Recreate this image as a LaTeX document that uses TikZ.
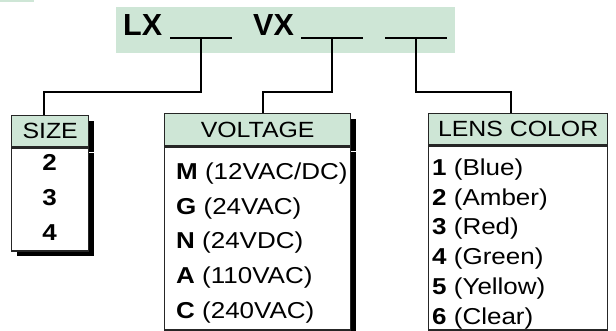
\documentclass[tikz,border=0pt]{standalone}
\usepackage{fontspec}
\setmainfont{Liberation Sans}
\newfontfamily\widefont{Liberation Sans}[FakeStretch=1.13]
\usetikzlibrary{positioning, shadows}
\definecolor{palegreen}{RGB}{206,230,214}

\begin{document}
\begin{tikzpicture}[x=1pt, y=-1pt,
    head/.style={rectangle, draw=black!85, line width=1.3pt, fill=palegreen, inner sep=0pt, anchor=north west, font=\widefont\fontsize{22}{22}\selectfont},
    body/.style={rectangle, draw=black!85, line width=1.3pt, fill=white, inner sep=0pt, below=0pt of #1},
    shade/.style={drop shadow={shadow xshift=5pt, shadow yshift=-5pt, fill=black, opacity=1}},
    item/.style={anchor=base west, inner sep=0pt, font=\widefont\fontsize{23}{23}\selectfont},
    code/.style={anchor=base west, inner sep=0pt, font=\bfseries\fontsize{30.5}{30.5}\selectfont},
    slot/.style={rectangle, fill=black, inner sep=0pt, minimum width=62pt, minimum height=2pt},
    link/.style={line width=1.5pt, black}
]
\useasboundingbox (0,0) rectangle (616,331);
\fill[palegreen] (0,0) rectangle (34,2);

\node[fill=palegreen, inner sep=0pt, minimum width=339pt, minimum height=46pt, anchor=north west] (banner) at (116,7) {};
\node[code] (lx) at (123,36) {LX};
\node[code] (vx) at (253,36) {VX};
\node[slot] (slotsize) at (201,38) {};
\node[slot] (slotvolt) at (332,38) {};
\node[slot] (slotlens) at (416,38) {};

\node[head, shade, minimum width=77pt, minimum height=31pt] (sizehead) at (11,115) {SIZE};
\node[body=sizehead, shade, minimum width=77pt, minimum height=103pt] (sizebody) {};
\node[head, shade, minimum width=186pt, minimum height=32pt] (volthead) at (164,113) {VOLTAGE};
\node[body=volthead, shade, minimum width=186pt, minimum height=183pt] (voltbody) {};
\node[head, minimum width=179pt, minimum height=31pt] (lenshead) at (428,113) {LENS COLOR};
\node[body=lenshead, minimum width=179pt, minimum height=184pt] (lensbody) {};

\foreach \s [count=\i] in {2,3,4}
  \node[item, anchor=base, font=\widefont\bfseries\fontsize{23}{23}\selectfont] (size\i) at (49.5,{136+35*\i}) {\s};
\foreach \k/\v [count=\i] in {M/{12VAC/DC}, G/24VAC, N/24VDC, A/110VAC, C/240VAC}
  \node[item] (volt\i) at (176,{145.5+34.5*\i}) {\textbf{\k} (\v)};
\foreach \k/\v [count=\i] in {1/Blue, 2/Amber, 3/Red, 4/Green, 5/Yellow, 6/Clear}
  \node[item] (lens\i) at (432,{145.5+29.8*\i}) {\textbf{\k} (\v)};

\draw[link] (slotsize.south) -- ++(0,53) -| ([xshift=33pt]sizehead.north west);
\draw[link] (slotvolt.south) -- ++(0,53) -| ([xshift=99pt]volthead.north west);
\draw[link] (slotlens.south) -- ++(0,53) -| ([xshift=83pt]lenshead.north west);

\end{tikzpicture}
\end{document}
